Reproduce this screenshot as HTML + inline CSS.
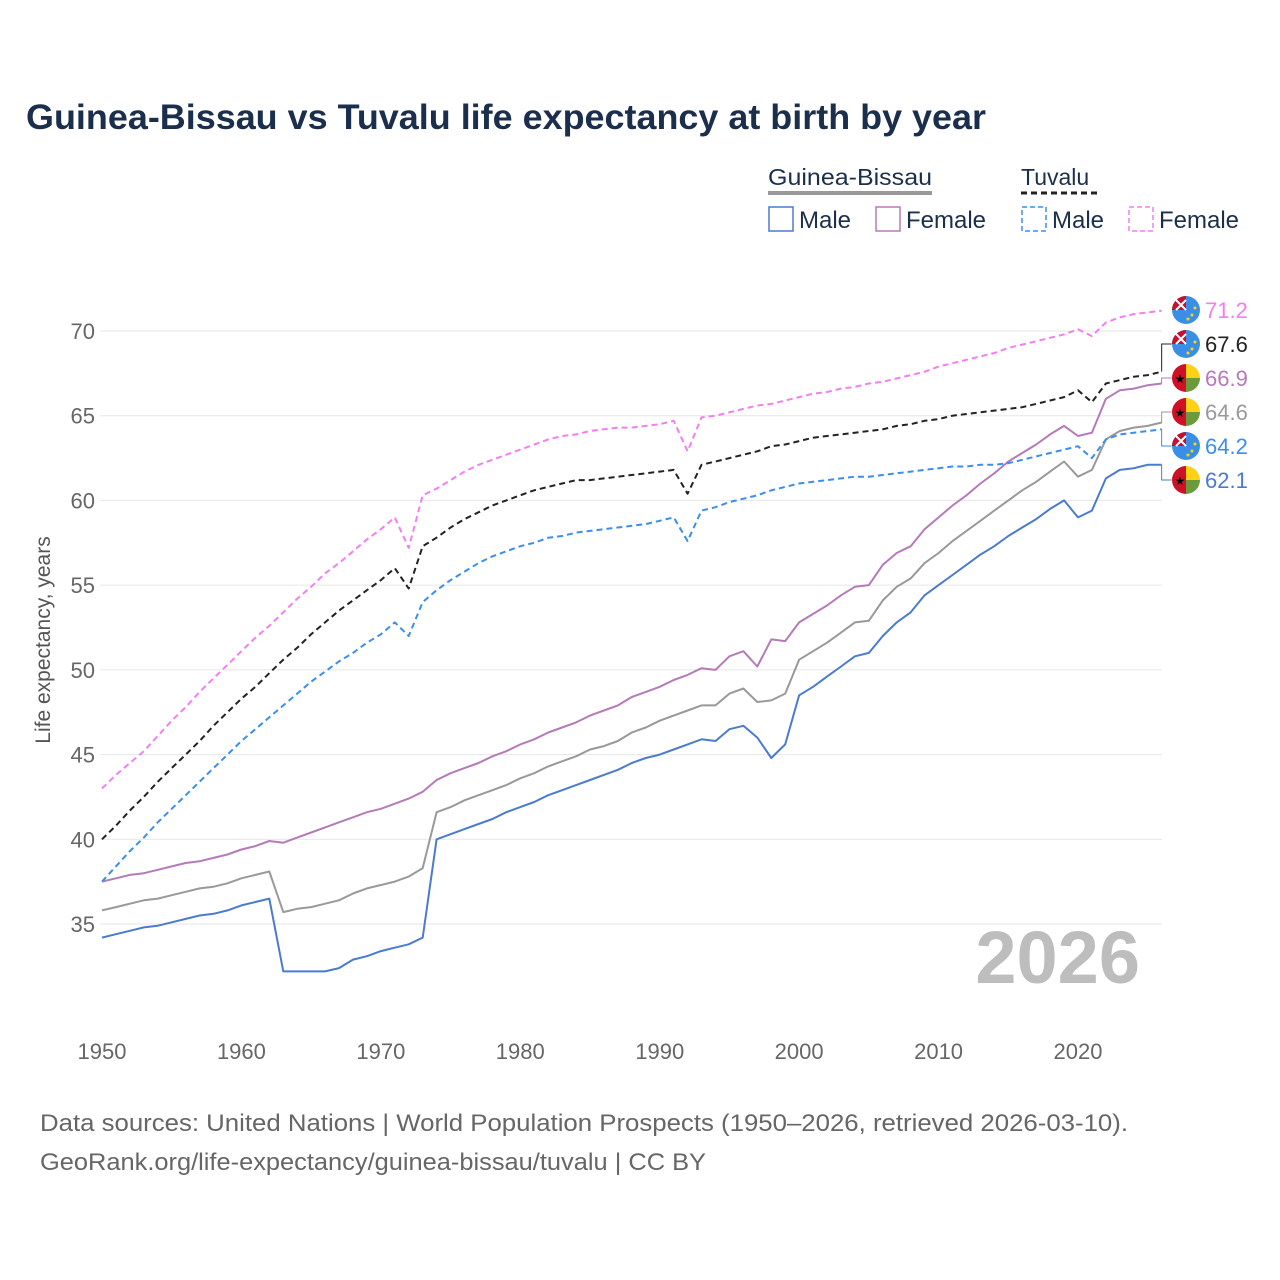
<!DOCTYPE html>
<html><head><meta charset="utf-8"><style>
body{margin:0;background:#fff;}
svg{display:block;font-family:"Liberation Sans",sans-serif;}
</style></head><body>
<svg id="chart" width="1280" height="1280" viewBox="0 0 1280 1280">
<text x="26" y="129" font-size="35" font-weight="bold" fill="#1b2f4d" textLength="960" lengthAdjust="spacingAndGlyphs">Guinea-Bissau vs Tuvalu life expectancy at birth by year</text>
<g>
<text x="768" y="185" font-size="23" fill="#1b2f4d" textLength="164" lengthAdjust="spacingAndGlyphs">Guinea-Bissau</text>
<line x1="768" y1="193" x2="932" y2="193" stroke="#999" stroke-width="4"/>
<text x="1021" y="185" font-size="23" fill="#1b2f4d">Tuvalu</text>
<line x1="1021" y1="193" x2="1097" y2="193" stroke="#222" stroke-width="3" stroke-dasharray="6,4"/>
<g><rect x="769" y="207" width="24" height="24" fill="none" stroke="#4a7bd0" stroke-width="1.5"/><text x="799" y="228" font-size="24" fill="#1b2f4d">Male</text></g>
<g><rect x="876" y="207" width="24" height="24" fill="none" stroke="#b57ab8" stroke-width="1.5"/><text x="906" y="228" font-size="24" fill="#1b2f4d">Female</text></g>
<g><rect x="1022" y="207" width="24" height="24" fill="none" stroke="#3a8ef0" stroke-width="1.5" stroke-dasharray="5,3"/><text x="1052" y="228" font-size="24" fill="#1b2f4d">Male</text></g>
<g><rect x="1129" y="207" width="24" height="24" fill="none" stroke="#f47ef0" stroke-width="1.5" stroke-dasharray="5,3"/><text x="1159" y="228" font-size="24" fill="#1b2f4d">Female</text></g>
</g>
<text x="50" y="640" font-size="21" fill="#555" transform="rotate(-90 50 640)" text-anchor="middle">Life expectancy, years</text>
<g id="grid"></g><g id="yticks"></g><g id="xticks"></g>
<text x="1140" y="983" font-size="74" font-weight="bold" fill="#bdbdbd" text-anchor="end">2026</text>
<g id="lines"></g><g id="labels"></g>
<text x="40" y="1131" font-size="24" fill="#666" textLength="1088" lengthAdjust="spacingAndGlyphs">Data sources: United Nations | World Population Prospects (1950–2026, retrieved 2026-03-10).</text>
<text x="40" y="1170" font-size="24" fill="#666" textLength="666" lengthAdjust="spacingAndGlyphs">GeoRank.org/life-expectancy/guinea-bissau/tuvalu | CC BY</text>
</svg>
<script>
const startYear = 1950;
const yTicks = [35,40,45,50,55,60,65,70];
const xTicks = [1950,1960,1970,1980,1990,2000,2010,2020];
const tvFemale = [43.0,43.8,44.5,45.2,46.1,47.0,47.8,48.7,49.5,50.3, 51.1,51.9,52.6,53.4,54.2,54.9,55.7,56.3,57.0,57.7, 58.3,59.0,57.2,60.3,60.7,61.2,61.7,62.1,62.4,62.7, 63.0,63.3,63.6,63.8,63.9,64.1,64.2,64.3,64.3,64.4, 64.5,64.7,62.9,64.9,65.0,65.2,65.4,65.6,65.7,65.9, 66.1,66.3,66.4,66.6,66.7,66.9,67.0,67.2,67.4,67.6, 67.9,68.1,68.3,68.5,68.7,69.0,69.2,69.4,69.6,69.8, 70.1,69.7,70.5,70.8,71.0,71.1,71.2];
const tvTotal = [40.0,40.8,41.7,42.5,43.4,44.2,45.0,45.8,46.7,47.5, 48.3,49.0,49.8,50.6,51.3,52.1,52.8,53.5,54.1,54.7, 55.3,56.0,54.8,57.3,57.8,58.4,58.9,59.3,59.7,60.0, 60.3,60.6,60.8,61.0,61.2,61.2,61.3,61.4,61.5,61.6, 61.7,61.8,60.4,62.1,62.3,62.5,62.7,62.9,63.2,63.3, 63.5,63.7,63.8,63.9,64.0,64.1,64.2,64.4,64.5,64.7, 64.8,65.0,65.1,65.2,65.3,65.4,65.5,65.7,65.9,66.1, 66.5,65.8,66.9,67.1,67.3,67.4,67.6];
const tvMale = [37.5,38.4,39.3,40.1,41.0,41.8,42.6,43.4,44.2,45.0, 45.8,46.5,47.2,47.9,48.6,49.3,49.9,50.5,51.0,51.6, 52.1,52.8,52.0,54.0,54.7,55.3,55.8,56.3,56.7,57.0, 57.3,57.5,57.8,57.9,58.1,58.2,58.3,58.4,58.5,58.6, 58.8,59.0,57.6,59.4,59.6,59.9,60.1,60.3,60.6,60.8, 61.0,61.1,61.2,61.3,61.4,61.4,61.5,61.6,61.7,61.8, 61.9,62.0,62.0,62.1,62.1,62.2,62.4,62.6,62.8,63.0, 63.2,62.5,63.6,63.9,64.0,64.1,64.2];
const gbFemale = [37.5,37.7,37.9,38.0,38.2,38.4,38.6,38.7,38.9,39.1, 39.4,39.6,39.9,39.8,40.1,40.4,40.7,41.0,41.3,41.6, 41.8,42.1,42.4,42.8,43.5,43.9,44.2,44.5,44.9,45.2, 45.6,45.9,46.3,46.6,46.9,47.3,47.6,47.9,48.4,48.7, 49.0,49.4,49.7,50.1,50.0,50.8,51.1,50.2,51.8,51.7, 52.8,53.3,53.8,54.4,54.9,55.0,56.2,56.9,57.3,58.3, 59.0,59.7,60.3,61.0,61.6,62.3,62.8,63.3,63.9,64.4, 63.8,64.0,66.0,66.5,66.6,66.8,66.9];
const gbTotal = [35.8,36.0,36.2,36.4,36.5,36.7,36.9,37.1,37.2,37.4, 37.7,37.9,38.1,35.7,35.9,36.0,36.2,36.4,36.8,37.1, 37.3,37.5,37.8,38.3,41.6,41.9,42.3,42.6,42.9,43.2, 43.6,43.9,44.3,44.6,44.9,45.3,45.5,45.8,46.3,46.6, 47.0,47.3,47.6,47.9,47.9,48.6,48.9,48.1,48.2,48.6, 50.6,51.1,51.6,52.2,52.8,52.9,54.1,54.9,55.4,56.3, 56.9,57.6,58.2,58.8,59.4,60.0,60.6,61.1,61.7,62.3, 61.4,61.8,63.6,64.1,64.3,64.4,64.6];
const gbMale = [34.2,34.4,34.6,34.8,34.9,35.1,35.3,35.5,35.6,35.8, 36.1,36.3,36.5,32.2,32.2,32.2,32.2,32.4,32.9,33.1, 33.4,33.6,33.8,34.2,40.0,40.3,40.6,40.9,41.2,41.6, 41.9,42.2,42.6,42.9,43.2,43.5,43.8,44.1,44.5,44.8, 45.0,45.3,45.6,45.9,45.8,46.5,46.7,46.0,44.8,45.6, 48.5,49.0,49.6,50.2,50.8,51.0,52.0,52.8,53.4,54.4, 55.0,55.6,56.2,56.8,57.3,57.9,58.4,58.9,59.5,60.0, 59.0,59.4,61.3,61.8,61.9,62.1,62.1];

const NS="http://www.w3.org/2000/svg";
const X = yr => 102 + (yr-1950)*(1078-102)/70;
const Y = v => 924 - (v-35)*(924-331)/35;
function mk(tag, attrs, parent){const e=document.createElementNS(NS,tag);for(const k in attrs)e.setAttribute(k,attrs[k]);parent.appendChild(e);return e;}
const grid=document.getElementById('grid'), yt=document.getElementById('yticks'), xt=document.getElementById('xticks');
yTicks.forEach(v=>{
  const l=mk('line',{x1:100,x2:1162,y1:Y(v),y2:Y(v),stroke:'#e6e6e6','stroke-width':1},grid);
  
  
  const t=mk('text',{x:95,y:Y(v)+8,'font-size':22,fill:'#666','text-anchor':'end'},yt);
  t.textContent=v;
  
  
});
xTicks.forEach(yr=>{
  const t=mk('text',{x:X(yr),y:1059,'font-size':22,fill:'#666','text-anchor':'middle'},xt);
  t.textContent=yr;
  
  
});
const series=[
 {d:gbMale,c:'#4a7bd0',dash:null,n:'line-gb-male'},
 {d:gbTotal,c:'#999999',dash:null,n:'line-gb-total'},
 {d:gbFemale,c:'#b57ab8',dash:null,n:'line-gb-female'},
 {d:tvMale,c:'#3a8ef0',dash:'6,4',n:'line-tv-male'},
 {d:tvTotal,c:'#222222',dash:'6,4',n:'line-tv-total'},
 {d:tvFemale,c:'#f47ef0',dash:'6,4',n:'line-tv-female'}];
const lg=document.getElementById('lines');
series.forEach(s=>{
  const pts=s.d.map((v,i)=>X(startYear+i).toFixed(1)+','+Y(v).toFixed(1)).join(' ');
  const a={points:pts,fill:'none',stroke:s.c,'stroke-width':2,'stroke-linejoin':'round'};
  if(s.dash)a['stroke-dasharray']=s.dash;
  const p=mk('polyline',a,lg);
  
  
});
const lab=document.getElementById('labels');
const ends=[
 {d:tvFemale,c:'#f47ef0',f:'tv',ly:310,n:'end-label-tv-female'},
 {d:tvTotal,c:'#222222',f:'tv',ly:344,n:'end-label-tv-total'},
 {d:gbFemale,c:'#b57ab8',f:'gb',ly:378,n:'end-label-gb-female'},
 {d:gbTotal,c:'#999999',f:'gb',ly:412,n:'end-label-gb-total'},
 {d:tvMale,c:'#3a8ef0',f:'tv',ly:446,n:'end-label-tv-male'},
 {d:gbMale,c:'#4a7bd0',f:'gb',ly:480,n:'end-label-gb-male'}];
const last=startYear+tvFemale.length-1;
ends.forEach(e=>{
  const v=e.d[e.d.length-1], x0=X(last), y0=Y(v);
  const g=mk('g',{},lab);
  
  
  if(Math.abs(y0-e.ly)>3) mk('polyline',{points:`${x0},${y0} ${x0},${e.ly} ${x0+10},${e.ly}`,fill:'none',stroke:e.c,'stroke-width':1},g);
  const cx=1186, cy=e.ly;
  if(e.f==='tv'){
    mk('circle',{cx:cx,cy:cy,r:14,fill:'#3a8ee6'},g);
    mk('path',{d:`M${cx-14},${cy} A14,14 0 0 1 ${cx},${cy-14} L${cx},${cy} Z`,fill:'#c8102e'},g);
    mk('path',{d:`M${cx-10},${cy-10} L${cx},${cy} M${cx},${cy-10} L${cx-10},${cy}`,stroke:'#fff','stroke-width':2},g);
    mk('circle',{cx:cx+6,cy:cy+5,r:1.5,fill:'#ffd700'},g);
    mk('circle',{cx:cx+2,cy:cy+9,r:1.5,fill:'#ffd700'},g);
    mk('circle',{cx:cx+9,cy:cy-2,r:1.5,fill:'#ffd700'},g);
  } else {
    mk('path',{d:`M${cx},${cy-14} A14,14 0 0 1 ${cx+14},${cy} L${cx},${cy} Z`,fill:'#fcd116'},g);
    mk('path',{d:`M${cx+14},${cy} A14,14 0 0 1 ${cx},${cy+14} L${cx},${cy} Z`,fill:'#6a9a3c'},g);
    mk('path',{d:`M${cx},${cy-14} A14,14 0 0 0 ${cx},${cy+14} Z`,fill:'#ce1126'},g);
    const st=mk('text',{x:cx-6,y:cy+5,'font-size':12,fill:'#000','text-anchor':'middle'},g);
    st.textContent='★';
  }
  const t=mk('text',{x:1205,y:e.ly+8,'font-size':22,fill:e.c},g);
  t.textContent=v.toFixed(1);
});
</script>
</body></html>
